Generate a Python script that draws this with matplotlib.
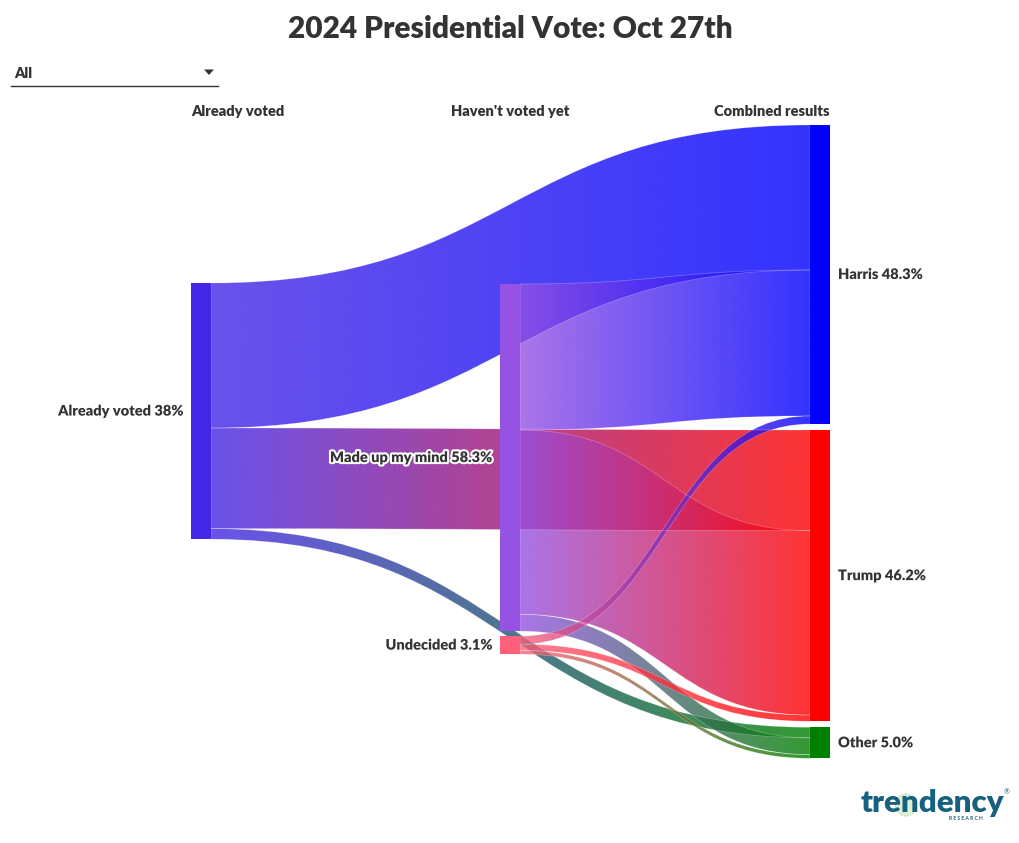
import numpy as np
import matplotlib
matplotlib.use("Agg")
import matplotlib.pyplot as plt
from matplotlib.path import Path
from matplotlib.patches import PathPatch, Rectangle, Polygon, Circle
import matplotlib.patheffects as pe

# ---------------- data ----------------
title = "2024 Presidential Vote: Oct 27th"
column_titles = ["Already voted", "Haven't voted yet", "Combined results"]
nodes = ["Already voted", "Made up my mind", "Undecided", "Harris", "Trump", "Other"]
node_labels = ["Already voted 38%", "Made up my mind 58.3%", "Undecided 3.1%",
               "Harris 48.3%", "Trump 46.2%", "Other 5.0%"]
node_columns = [0, 1, 1, 2, 2, 2]
node_colors = ["#4427E6", "#9552E3", "#FF5F78", "#0000FF", "#FF0000", "#008000"]

link_source = ["Already voted", "Already voted", "Already voted",
               "Made up my mind", "Made up my mind", "Made up my mind",
               "Undecided", "Undecided", "Undecided"]
link_target = ["Harris", "Trump", "Other",
               "Harris", "Trump", "Other",
               "Harris", "Trump", "Other"]
link_value = [23.35, 16.2, 1.7,
              23.5, 29.7, 2.7,
              1.3, 1.0, 0.6]

dropdown_text = "All"

# ---------------- layout ----------------
W, H = 1020, 843
fig = plt.figure(figsize=(W / 100, H / 100), dpi=100)
ax = fig.add_axes([0, 0, 1, 1])
ax.set_xlim(0, W)
ax.set_ylim(H, 0)
ax.axis("off")

FONT = "Lato"
TXT = "#333333"
col_x = [191, 500, 810]
node_w = 20
col_top = [283, 284, 125]
col_gap = [0, 5, 6]
scale = 6.21  # px per unit

idx = {n: i for i, n in enumerate(nodes)}
n = len(nodes)
inflow = np.zeros(n)
outflow = np.zeros(n)
for s, t, v in zip(link_source, link_target, link_value):
    outflow[idx[s]] += v
    inflow[idx[t]] += v
node_val = np.maximum(inflow, outflow)
node_h = node_val * scale

node_y = np.zeros(n)
for c in range(3):
    y = col_top[c]
    for i in range(n):
        if node_columns[i] == c:
            node_y[i] = y
            y += node_h[i] + col_gap[c]

# link offsets: outgoing ordered by target position, incoming by source position
src_off = {}
tgt_off = {}
order = list(range(len(link_value)))
for i in range(n):
    outs = [k for k in order if idx[link_source[k]] == i]
    outs.sort(key=lambda k: node_y[idx[link_target[k]]])
    y = node_y[i]
    for k in outs:
        src_off[k] = y
        y += link_value[k] * scale
    ins = [k for k in order if idx[link_target[k]] == i]
    ins.sort(key=lambda k: node_y[idx[link_source[k]]])
    y = node_y[i]
    for k in ins:
        tgt_off[k] = y
        y += link_value[k] * scale


def hex2rgb(h):
    h = h.lstrip("#")
    return np.array([int(h[j:j + 2], 16) for j in (0, 2, 4)]) / 255.0


link_alpha = 0.8
for k in order:
    s = idx[link_source[k]]
    t = idx[link_target[k]]
    x0 = col_x[node_columns[s]] + node_w
    x1 = col_x[node_columns[t]]
    w = link_value[k] * scale
    y0 = src_off[k]
    y1 = tgt_off[k]
    xm = (x0 + x1) / 2
    verts = [(x0, y0), (xm, y0), (xm, y1), (x1, y1),
             (x1, y1 + w), (xm, y1 + w), (xm, y0 + w), (x0, y0 + w), (x0, y0)]
    codes = [Path.MOVETO, Path.CURVE4, Path.CURVE4, Path.CURVE4,
             Path.LINETO, Path.CURVE4, Path.CURVE4, Path.CURVE4, Path.CLOSEPOLY]
    path = Path(verts, codes)
    patch = PathPatch(path, facecolor="none", edgecolor="none")
    ax.add_patch(patch)
    c0 = hex2rgb(node_colors[s])
    c1 = hex2rgb(node_colors[t])
    N = 256
    tt = np.linspace(0, 1, N)[:, None]
    rgb = c0 * (1 - tt) + c1 * tt
    img = np.ones((1, N, 4))
    img[0, :, :3] = rgb
    img[0, :, 3] = link_alpha
    ymin = min(y0, y1) - 1
    ymax = max(y0, y1) + w + 1
    im = ax.imshow(img, extent=(x0, x1, ymax, ymin), aspect="auto",
                   interpolation="bilinear", zorder=2)
    im.set_clip_path(patch)
    edge = PathPatch(path, facecolor="none", edgecolor=(1, 1, 1, 0.3),
                     linewidth=0.5, zorder=2.5)
    ax.add_patch(edge)

# nodes
for i in range(n):
    ax.add_patch(Rectangle((col_x[node_columns[i]], node_y[i]), node_w, node_h[i],
                           facecolor=node_colors[i], edgecolor="none",
                           alpha=1.0, zorder=3))

halo = [pe.withStroke(linewidth=3, foreground="white")]
for i in range(n):
    yc = node_y[i] + node_h[i] / 2
    c = node_columns[i]
    if c == 2:
        ax.text(col_x[c] + node_w + 8, yc, node_labels[i], ha="left", va="center",
                fontsize=10.5, fontweight="heavy", family=FONT, color=TXT,
                path_effects=halo, zorder=5)
    else:
        ax.text(col_x[c] - 7, yc, node_labels[i], ha="right", va="center",
                fontsize=10.5, fontweight="heavy", family=FONT, color=TXT,
                path_effects=halo, zorder=5)

# column headers
hy = 112
ax.text(col_x[0], hy, column_titles[0], ha="left", va="center", fontsize=10.5,
        fontweight="heavy", family=FONT, color=TXT)
ax.text(col_x[1] + node_w / 2, hy, column_titles[1], ha="center", va="center",
        fontsize=10.5, fontweight="heavy", family=FONT, color=TXT)
ax.text(col_x[2] + node_w, hy, column_titles[2], ha="right", va="center",
        fontsize=10.5, fontweight="heavy", family=FONT, color=TXT)

# title
ax.text(W / 2, 29, title, ha="center", va="center", fontsize=21.5,
        fontweight="heavy", family=FONT, color=TXT)

# dropdown
ax.text(14, 73, dropdown_text, ha="left", va="center", fontsize=10.5,
        fontweight="heavy", family=FONT, color=TXT)
ax.plot([11, 218], [85.5, 85.5], color="#333333", lw=1)
ax.add_patch(Polygon([(204, 69.5), (214, 69.5), (209, 75)], closed=True,
                     facecolor="#333333", edgecolor="none"))

# logo
ax.add_patch(Circle((906, 805), 11, facecolor="#dff0d6", edgecolor="#9fd39a",
                    lw=0.8, ls=":", zorder=4))
ax.text(932, 803, "trendency", ha="center", va="center", fontsize=22.5,
        fontweight="heavy", family=FONT, color="#17607F", zorder=5)
ax.text(1004, 792, "®", ha="left", va="center", fontsize=5, family=FONT,
        color="#17607F")
ax.text(966, 818, "R E S E A R C H", ha="center", va="center", fontsize=3.6,
        fontweight="bold", family=FONT, color="#17607F")

fig.savefig("out.png", dpi=100)
